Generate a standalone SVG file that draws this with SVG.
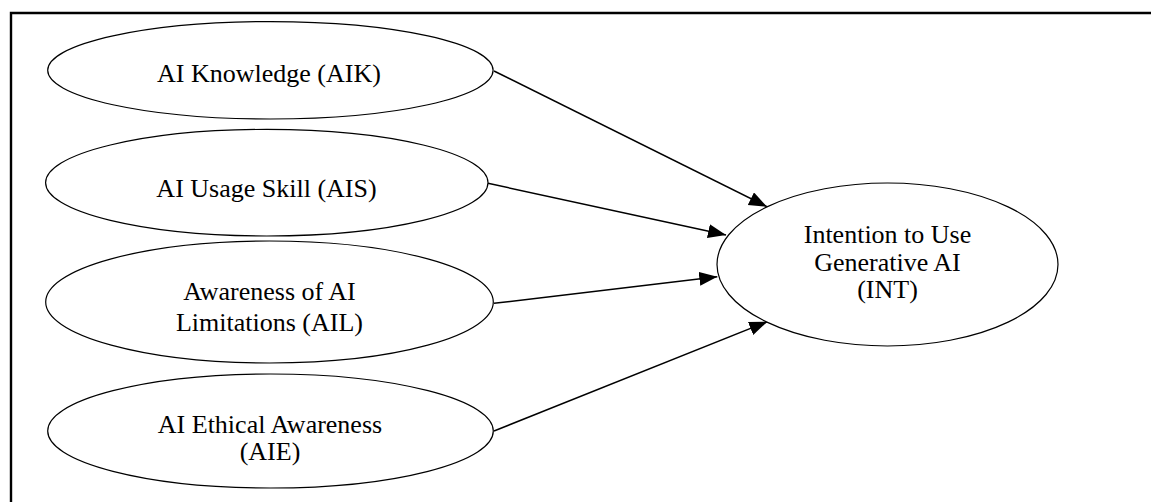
<svg xmlns="http://www.w3.org/2000/svg" width="1151" height="502" viewBox="0 0 1151 502">
<style>
.node ellipse{fill:#fff;stroke:#000;stroke-width:1.2}
.node text{font-family:"Liberation Serif","Times New Roman",serif;font-size:26px;fill:#000;text-anchor:middle}
.conn line{stroke:#000;stroke-width:1.5;marker-end:url(#arr)}
</style>
<defs>
<marker id="arr" markerUnits="userSpaceOnUse" markerWidth="19" markerHeight="15" refX="18" refY="7" orient="auto">
<path d="M0,0 L18,7 L0,14 z" fill="#000"/>
</marker>
</defs>
<rect width="1151" height="502" fill="#fff"/>
<path d="M11,502 V13 H1151" fill="none" stroke="#000" stroke-width="2.4"/>
<g class="conn">
<line x1="494" y1="71" x2="767" y2="206.7"/>
<line x1="488" y1="183.3" x2="726" y2="235"/>
<line x1="494" y1="303.3" x2="717.3" y2="276.7"/>
<line x1="494" y1="431" x2="767.3" y2="321.7"/>
</g>
<g id="AIK" class="node">
<ellipse cx="270.4" cy="70.3" rx="222.7" ry="48.7"/>
<text x="269" y="82">AI Knowledge (AIK)</text>
</g>
<g id="AIS" class="node">
<ellipse cx="266.8" cy="182.7" rx="221.2" ry="53.3"/>
<text x="266.5" y="197">AI Usage Skill (AIS)</text>
</g>
<g id="AIL" class="node">
<ellipse cx="269.5" cy="302" rx="223.8" ry="61"/>
<text x="269.5" y="300">Awareness of AI</text>
<text x="269.5" y="331">Limitations (AIL)</text>
</g>
<g id="AIE" class="node">
<ellipse cx="270.5" cy="431" rx="222.8" ry="57"/>
<text x="270" y="432.5">AI Ethical Awareness</text>
<text x="270" y="460">(AIE)</text>
</g>
<g id="INT" class="node">
<ellipse cx="887.5" cy="264.5" rx="170.5" ry="81.5"/>
<text x="887.5" y="243">Intention to Use</text>
<text x="887.5" y="270.5">Generative AI</text>
<text x="887.5" y="297.5">(INT)</text>
</g>
</svg>
